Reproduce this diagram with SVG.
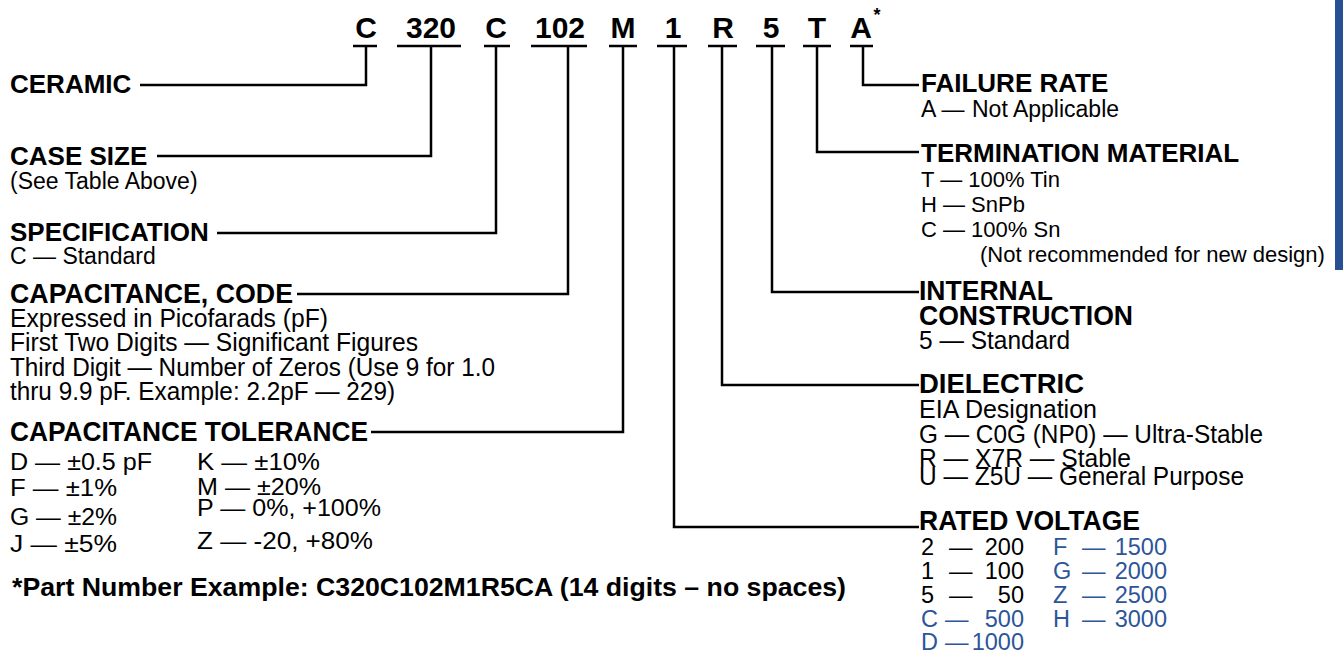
<svg xmlns="http://www.w3.org/2000/svg" width="1343" height="654" viewBox="0 0 1343 654">
<style>
text{font-family:"Liberation Sans",Arial,Helvetica,sans-serif;fill:#000}
.code{font-weight:bold;font-size:30px;text-anchor:middle}
.h{font-weight:bold;font-size:26px}
.hc{font-weight:bold;font-size:28px}
.b{font-size:22px}
.bl{font-size:23px}
.bc{font-size:25px}
.bt{font-size:23px}
.v{font-size:23.5px}
.blue{fill:#2d5599}
.ln{stroke:#000;stroke-width:2.5;fill:none}
</style>
<rect x="1335" y="0" width="8" height="270" fill="#284e94"/>
<g id="code">
<text class="code" x="366" y="38">C</text>
<text class="code" x="431" y="38">320</text>
<text class="code" x="496" y="38">C</text>
<text class="code" x="560" y="38">102</text>
<text class="code" x="623" y="38">M</text>
<text class="code" x="673" y="38">1</text>
<text class="code" x="723" y="38">R</text>
<text class="code" x="771" y="38">5</text>
<text class="code" x="817" y="38">T</text>
<text class="code" x="861" y="38">A</text>
<text x="877" y="21" style="font-weight:bold;font-size:18px;text-anchor:middle">*</text>
</g>
<g id="connectors" class="ln">
<path d="M353 46H377M397 46H461M484 46H510M531 46H587M609 46H637M657 46H687M708 46H737M756 46H785M803 46H831M850 46H873"/>
<path d="M366 46V85H140"/>
<path d="M431 46V156H157"/>
<path d="M496 46V233H217"/>
<path d="M568 46V294H297"/>
<path d="M623 46V432H371"/>
<path d="M674 46V527H919"/>
<path d="M722 46V385H919"/>
<path d="M772 46V292H919"/>
<path d="M817 46V152H919"/>
<path d="M863 46V85H919"/>
</g>
<g id="ceramic"><text class="h" x="10" y="93">CERAMIC</text></g>
<g id="case-size">
<text class="h" x="10" y="165">CASE SIZE</text>
<text class="bl" x="10" y="189">(See Table Above)</text>
</g>
<g id="specification">
<text class="h" x="10" y="241">SPECIFICATION</text>
<text class="bl" x="10" y="264">C — Standard</text>
</g>
<g id="capacitance-code">
<text class="hc" x="10" y="303" textLength="283" lengthAdjust="spacingAndGlyphs">CAPACITANCE, CODE</text>
<text class="bc" x="10" y="327" textLength="318" lengthAdjust="spacingAndGlyphs">Expressed in Picofarads (pF)</text>
<text class="bc" x="10" y="351" textLength="408" lengthAdjust="spacingAndGlyphs">First Two Digits — Significant Figures</text>
<text class="bc" x="10" y="376" textLength="485" lengthAdjust="spacingAndGlyphs">Third Digit — Number of Zeros (Use 9 for 1.0</text>
<text class="bc" x="10" y="400" textLength="385" lengthAdjust="spacingAndGlyphs">thru 9.9 pF. Example: 2.2pF — 229)</text>
</g>
<g id="capacitance-tolerance">
<text class="hc" x="10" y="441" textLength="358" lengthAdjust="spacingAndGlyphs">CAPACITANCE TOLERANCE</text>
<text class="bt" x="10" y="470" textLength="142" lengthAdjust="spacingAndGlyphs">D — ±0.5 pF</text>
<text class="bt" x="197" y="470" textLength="123" lengthAdjust="spacingAndGlyphs">K — ±10%</text>
<text class="bt" x="10" y="496" textLength="107" lengthAdjust="spacingAndGlyphs">F — ±1%</text>
<text class="bt" x="197" y="495" textLength="124" lengthAdjust="spacingAndGlyphs">M — ±20%</text>
<text class="bt" x="197" y="516" textLength="184" lengthAdjust="spacingAndGlyphs">P — 0%, +100%</text>
<text class="bt" x="10" y="525" textLength="107" lengthAdjust="spacingAndGlyphs">G — ±2%</text>
<text class="bt" x="10" y="552" textLength="107" lengthAdjust="spacingAndGlyphs">J — ±5%</text>
<text class="bt" x="197" y="549" textLength="176" lengthAdjust="spacingAndGlyphs">Z — -20, +80%</text>
</g>
<g id="footnote"><text x="12" y="596" style="font-weight:bold;font-size:25px" textLength="834" lengthAdjust="spacingAndGlyphs">*Part Number Example: C320C102M1R5CA (14 digits – no spaces)</text></g>
<g id="failure-rate">
<text class="h" x="921" y="92">FAILURE RATE</text>
<text y="117" style="font-size:23px"><tspan x="921">A —</tspan><tspan x="972">Not Applicable</tspan></text>
</g>
<g id="termination">
<text class="h" x="921" y="162">TERMINATION MATERIAL</text>
<text class="b" x="921" y="187">T — 100% Tin</text>
<text class="b" x="921" y="212">H — SnPb</text>
<text class="b" x="921" y="237">C — 100% Sn</text>
<text class="b" x="980" y="262">(Not recommended for new design)</text>
</g>
<g id="internal-construction">
<text class="hc" x="919" y="300" textLength="134" lengthAdjust="spacingAndGlyphs">INTERNAL</text>
<text class="hc" x="919" y="325" textLength="214" lengthAdjust="spacingAndGlyphs">CONSTRUCTION</text>
<text class="bc" x="919" y="349" textLength="151" lengthAdjust="spacingAndGlyphs">5 — Standard</text>
</g>
<g id="dielectric">
<text class="hc" x="919" y="393" textLength="165" lengthAdjust="spacingAndGlyphs">DIELECTRIC</text>
<text class="bc" x="919" y="418" textLength="178" lengthAdjust="spacingAndGlyphs">EIA Designation</text>
<text class="bc" x="919" y="443" textLength="344" lengthAdjust="spacingAndGlyphs">G — C0G (NP0) — Ultra-Stable</text>
<text class="bc" x="919" y="467" textLength="212" lengthAdjust="spacingAndGlyphs">R — X7R — Stable</text>
<text class="bc" x="919" y="485" textLength="325" lengthAdjust="spacingAndGlyphs">U — Z5U — General Purpose</text>
</g>
<g id="rated-voltage">
<text class="hc" x="919" y="530" textLength="221" lengthAdjust="spacingAndGlyphs">RATED VOLTAGE</text>
<text class="v" y="555"><tspan x="921">2</tspan><tspan x="949">—</tspan><tspan x="1024" text-anchor="end">200</tspan></text>
<text class="v" y="579"><tspan x="921">1</tspan><tspan x="949">—</tspan><tspan x="1024" text-anchor="end">100</tspan></text>
<text class="v" y="603"><tspan x="921">5</tspan><tspan x="949">—</tspan><tspan x="1024" text-anchor="end">50</tspan></text>
<text class="v blue" y="627"><tspan x="921">C</tspan><tspan x="945">—</tspan><tspan x="1024" text-anchor="end">500</tspan></text>
<text class="v blue" y="650"><tspan x="921">D</tspan><tspan x="945">—</tspan><tspan x="1024" text-anchor="end">1000</tspan></text>
<text class="v blue" y="555"><tspan x="1053">F</tspan><tspan x="1082">—</tspan><tspan x="1167" text-anchor="end">1500</tspan></text>
<text class="v blue" y="579"><tspan x="1053">G</tspan><tspan x="1082">—</tspan><tspan x="1167" text-anchor="end">2000</tspan></text>
<text class="v blue" y="603"><tspan x="1053">Z</tspan><tspan x="1082">—</tspan><tspan x="1167" text-anchor="end">2500</tspan></text>
<text class="v blue" y="627"><tspan x="1053">H</tspan><tspan x="1082">—</tspan><tspan x="1167" text-anchor="end">3000</tspan></text>
</g>
</svg>
